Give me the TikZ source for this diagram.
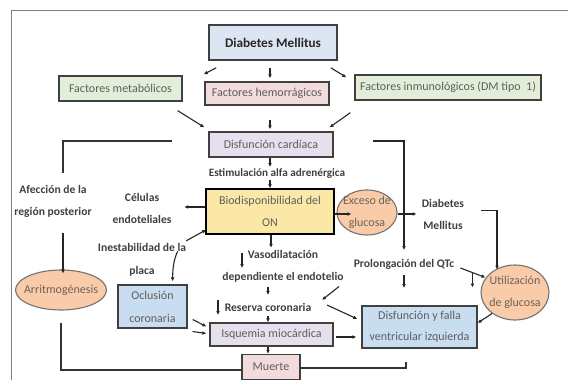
\documentclass[tikz,border=0pt]{standalone}
\usepackage{fontspec}
\setmainfont{Carlito}
\usetikzlibrary{arrows.meta,shapes.geometric,calc}
\definecolor{frame}{HTML}{808080}
\definecolor{bline}{HTML}{404040}
\definecolor{txt}{HTML}{404040}
\definecolor{btxt}{HTML}{5E5E5E}
\definecolor{otxt}{HTML}{6E6258}
\definecolor{fblue}{HTML}{DCE6F2}
\definecolor{fgreen}{HTML}{E3EEDA}
\definecolor{fpink}{HTML}{F2DCDB}
\definecolor{flav}{HTML}{E6E0EC}
\definecolor{fyel}{HTML}{FCE8A6}
\definecolor{forange}{HTML}{F9CBA8}
\definecolor{fsky}{HTML}{C9DDF0}
\begin{document}
\begin{tikzpicture}[x=1pt,y=-1pt,
  every node/.style={font=\fontsize{12}{22.5}\selectfont, text=txt, inner sep=0pt},
  box/.style={draw=bline, line width=1.3pt, text=btxt, align=center},
  oval/.style={ellipse, draw=black!55, line width=1.1pt, fill=forange},
  otext/.style={text=otxt, align=center},
  lbl/.style={align=center, text=txt, font=\fontsize{11.6}{22.5}\selectfont\bfseries},
  arr/.style={-{Latex[length=4pt,width=3.8pt]}, line width=1.1pt, draw=black!85},
  ln/.style={line width=1.1pt, draw=black!80}]
\useasboundingbox (0,0) rectangle (568,380);
\fill[white] (0,0) rectangle (568,380);
\draw[frame, line width=1pt] (11,380) -- (11,10) -- (568,10);

% boxes
\node[box, fill=fblue, line width=1.6pt, minimum width=128pt, minimum height=35pt, text=black!85, font=\fontsize{13.2}{15}\selectfont\bfseries] (dm) at (273,42.5) {Diabetes Mellitus};
\node[box, fill=fgreen, minimum width=123pt, minimum height=25pt] (fm) at (120.5,88.5) {Factores metabólicos};
\node[box, fill=fpink, minimum width=124pt, minimum height=23pt] (fh) at (267,93.5) {Factores hemorrágicos};
\node[box, fill=fgreen, minimum width=186pt, minimum height=25pt, font=\fontsize{12}{14}\selectfont] (fi) at (448,87.5) {Factores inmunológicos (DM tipo\ \ 1)};
\node[box, fill=flav, minimum width=124pt, minimum height=25pt] (dc) at (271,144.5) {Disfunción cardíaca};
\node[box, fill=fyel, draw=black, line width=1.6pt, minimum width=128pt, minimum height=45pt, font=\fontsize{12}{22}\selectfont] (bio) at (270,211.5) {Biodisponibilidad del\\ON};
\node[oval, minimum width=60pt, minimum height=45pt] (exc) at (367,212.5) {};
\node[otext] (excT) at (exc.center) {Exceso de\\glucosa};
\node[oval, minimum width=91pt, minimum height=40pt] (arr) at (61,290) {};
\node[otext] (arrT) at (arr.center) {Arritmogénesis};
\node[box, fill=fsky, minimum width=69pt, minimum height=43pt, font=\fontsize{12}{23}\selectfont] (ocl) at (152.5,306.5) {Oclusión\\coronaria};
\node[box, fill=flav, minimum width=123pt, minimum height=23pt] (isq) at (271.5,334.5) {Isquemia miocárdica};
\node[box, fill=fpink, minimum width=58pt, minimum height=25pt] (mue) at (271,367) {Muerte};
\node[oval, minimum width=68pt, minimum height=55pt] (uti) at (515,292.5) {};
\node[otext] (utiT) at (uti.center) {Utilización\\de glucosa};
\node[box, fill=fsky, minimum width=115pt, minimum height=42pt, font=\fontsize{12}{21}\selectfont] (dvi) at (419.5,327) {Disfunción y falla\\ventricular izquierda};

% labels
\node[lbl, font=\fontsize{11.2}{13}\selectfont\bfseries] (est) at (277,174) {Estimulación alfa adrenérgica};
\node[lbl] (cel) at (142,208.5) {Células\\endoteliales};
\node[lbl] (afe) at (53,201.5) {Afección de la\\región posterior};
\node[lbl] (ine) at (142,260) {Inestabilidad de la\\placa};
\node[lbl] (dm2) at (443,214.5) {Diabetes\\Mellitus};
\node[lbl] (vaso) at (283,266.5) {Vasodilatación\\dependiente el endotelio};
\node[lbl] (res) at (268,307) {Reserva coronaria};
\node[lbl] (pro) at (404,264) {Prolongación del QTc};
\coordinate (afeTop) at (63,173);

% connectors
\draw[arr] ($(dm.south west)+(8,7)$) -- ($(fm.north east)+(21,-1)$);
\draw[arr] ($(dm.south)+(-3,7)$) -- ($(fh.north)+(3,-3)$);
\draw[arr] ($(dm.south east)+(-7,7)$) -- ($(fi.north west)+(-8,3)$);
\draw[arr] ($(fm.south east)+(-5,9)$) -- ($(dc.north west)+(-4,-4)$);
\draw[arr] ($(fh.south)+(3,14)$) -- ($(dc.north)+(-1,-2)$);
\draw[arr] ($(fi.south west)+(-4,12)$) -- ($(dc.north east)+(-4,-4)$);
\draw[ln] ($(dc.west)+(-36,-3.5)$) -| (afeTop);
\draw[arr] ($(dc.east)+(39,-3.5)$) -| ($(pro.center)+(0,-14)$);
\draw[arr] ($(dc.south)+(-1,0)$) -- ($(est.center)+(-7,-7)$);
\draw[arr] ($(est.center)+(-7,6)$) -- (bio.north);
\draw[arr] ($(bio.west)+(0,-4.5)$) -- ($(bio.west)+(-21,-4.5)$);
\draw[arr] ($(bio.south west)+(-19,6)$) -- ($(bio.south west)+(1,-5)$);
\draw[arr] ($(ocl.north east)+(-10,-33)$) .. controls ($(ocl.north east)+(-14,-25)$) and ($(ocl.north east)+(-15,-15)$) .. ($(ocl.north east)+(-15,-3)$);
\draw[arr] ($(bio.east)+(0,2.5)$) -- ($(exc.west)+(15,1.5)$);
\draw[arr] ($(exc.east)+(0,1.5)$) -- ($(exc.east)+(19,1.5)$);
\draw[arr] ($(dm2.center)+(38,-4)$) -| ($(uti.center)+(-18,-23)$);
\draw[arr] ($(pro.east)+(6,4)$) -- ($(uti.west)+(5,-15)$);
\draw[arr] ($(uti.west)+(-8,-20)$) -- ($(uti.west)+(-8,-5)$);
\draw[arr] ($(pro.center)+(0,11)$) -- ($(pro.center)+(0,24)$);
\draw[arr] ($(uti.south)+(-23,-7)$) -- ($(dvi.east)+(0,-4)$);
\draw[arr] ($(bio.south)+(1,0)$) -- ($(bio.south)+(1,13)$);
\draw[arr] ($(vaso.center)+(-41,-13.5)$) -- ($(vaso.center)+(-41,1.5)$);
\draw[arr] ($(vaso.center)+(-15,20)$) -- ($(res.center)+(0,-12)$);
\draw[arr] ($(res.center)+(-50,-7)$) -- ($(res.center)+(-50,8)$);
\draw[arr] ($(res.center)+(0,9)$) -- ($(isq.north)+(-3.5,0)$);
\draw[arr] ($(isq.south)+(-3.5,0)$) -- ($(mue.north)+(-3,0)$);
\draw[arr] ($(ocl.east)+(5,13)$) -- ($(isq.west)+(-3,-8)$);
\draw[arr] ($(ocl.east)+(5,25)$) -- ($(isq.west)+(-3,-1)$);
\draw[arr] ($(isq.east)+(2,2.5)$) -- ($(dvi.west)+(-5,10)$);
\draw[arr] ($(vaso.center)+(56,20)$) -- ($(res.center)+(54,-7)$);
\draw[arr] ($(res.center)+(59,-2)$) -- ($(dvi.west)+(-4,-8)$);
\draw[arr] ($(afe.center)+(10,31)$) -- ($(arr.north)+(2,4)$);
\draw[ln] ($(arr.south)+(0,12)$) |- ($(mue.west)+(0,3)$);
\draw[ln] ($(dvi.south)+(-13.5,13)$) |- ($(mue.east)+(0,1)$);
\end{tikzpicture}
\end{document}
